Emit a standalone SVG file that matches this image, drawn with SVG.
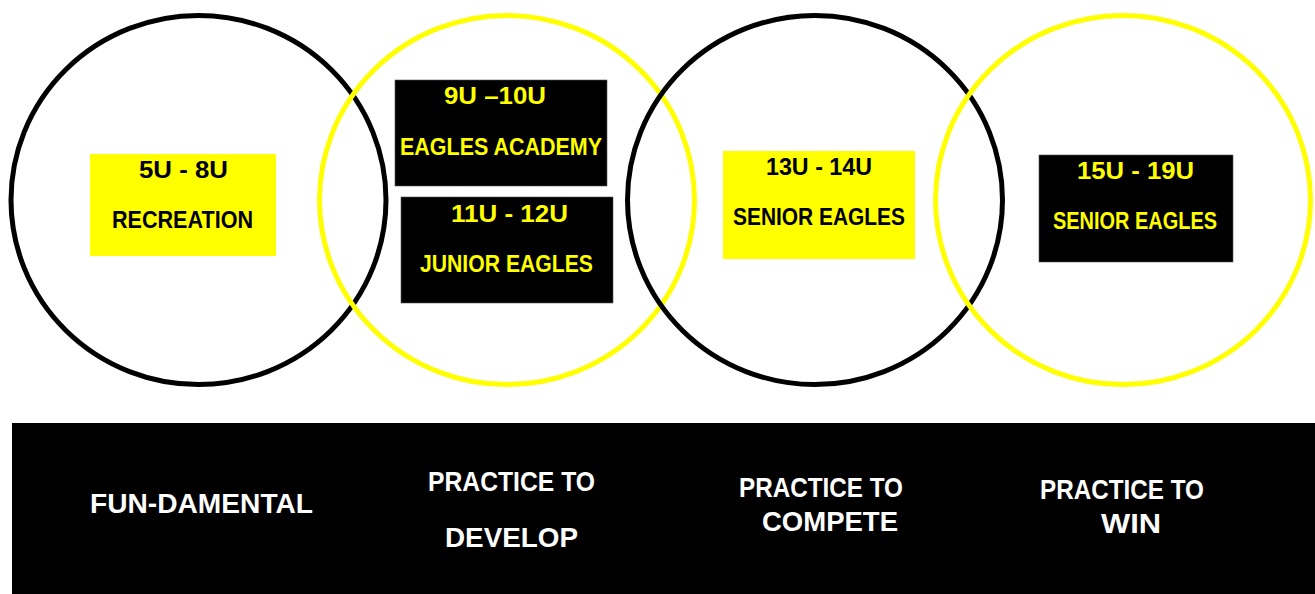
<svg xmlns="http://www.w3.org/2000/svg" width="1315" height="594" viewBox="0 0 1315 594">
<style>
.ring{fill:none;stroke-width:5}
.blk{stroke:#000}
.yel{stroke:#FFFF00}
.ybox{fill:#FFFF00}
.bbox{fill:#000;stroke:#555;stroke-width:0.6}
text{font-family:"Liberation Sans",Arial,sans-serif;font-weight:bold;text-anchor:middle}
.t{font-size:23px}
.tk{fill:#000}
.ty{fill:#FFFF00}
.b{font-size:28px;fill:#fff}
</style>
<rect width="1315" height="594" fill="#fff"/>
<g id="circles">
<ellipse id="c1" class="ring blk" cx="198.5" cy="200" rx="187.5" ry="184.5"/>
<ellipse id="c2" class="ring yel" cx="507" cy="200" rx="187.5" ry="184.5"/>
<ellipse id="c3" class="ring blk" cx="815" cy="200" rx="187.5" ry="184.5"/>
<ellipse id="c4" class="ring yel" cx="1123" cy="200" rx="187.5" ry="184.5"/>
</g>
<g id="recreation">
<rect class="ybox" x="90" y="154" width="186" height="102"/>
<text class="t tk" x="183.5" y="178" textLength="89" lengthAdjust="spacingAndGlyphs">5U - 8U</text>
<text class="t tk" x="182.5" y="228" textLength="141" lengthAdjust="spacingAndGlyphs">RECREATION</text>
</g>
<g id="academy">
<rect class="bbox" x="395" y="80" width="212" height="106"/>
<text class="t ty" x="495" y="104" textLength="102" lengthAdjust="spacingAndGlyphs">9U –10U</text>
<text class="t ty" x="501" y="155" textLength="202" lengthAdjust="spacingAndGlyphs">EAGLES ACADEMY</text>
</g>
<g id="junior">
<rect class="bbox" x="401" y="197" width="212" height="106"/>
<text class="t ty" x="509.5" y="222" textLength="117" lengthAdjust="spacingAndGlyphs">11U - 12U</text>
<text class="t ty" x="506.5" y="272" textLength="173" lengthAdjust="spacingAndGlyphs">JUNIOR EAGLES</text>
</g>
<g id="senior1">
<rect class="ybox" x="723" y="151" width="192" height="108"/>
<text class="t tk" x="819" y="175" textLength="106" lengthAdjust="spacingAndGlyphs">13U - 14U</text>
<text class="t tk" x="819" y="225" textLength="172" lengthAdjust="spacingAndGlyphs">SENIOR EAGLES</text>
</g>
<g id="senior2">
<rect class="bbox" x="1039" y="155" width="194" height="107"/>
<text class="t ty" x="1135.5" y="179" textLength="117" lengthAdjust="spacingAndGlyphs">15U - 19U</text>
<text class="t ty" x="1135" y="229" textLength="164" lengthAdjust="spacingAndGlyphs">SENIOR EAGLES</text>
</g>
<g id="stages">
<rect x="12" y="423" width="1303" height="171" fill="#000"/>
<text class="b" x="201.5" y="513" textLength="223" lengthAdjust="spacingAndGlyphs">FUN-DAMENTAL</text>
<text class="b" x="511.5" y="491" textLength="167" lengthAdjust="spacingAndGlyphs">PRACTICE TO</text>
<text class="b" x="511.5" y="547" textLength="133" lengthAdjust="spacingAndGlyphs">DEVELOP</text>
<text class="b" x="821" y="497" textLength="164" lengthAdjust="spacingAndGlyphs">PRACTICE TO</text>
<text class="b" x="830" y="531" textLength="136" lengthAdjust="spacingAndGlyphs">COMPETE</text>
<text class="b" x="1122" y="499" textLength="164" lengthAdjust="spacingAndGlyphs">PRACTICE TO</text>
<text class="b" x="1131" y="533" textLength="60" lengthAdjust="spacingAndGlyphs">WIN</text>
</g>
</svg>
